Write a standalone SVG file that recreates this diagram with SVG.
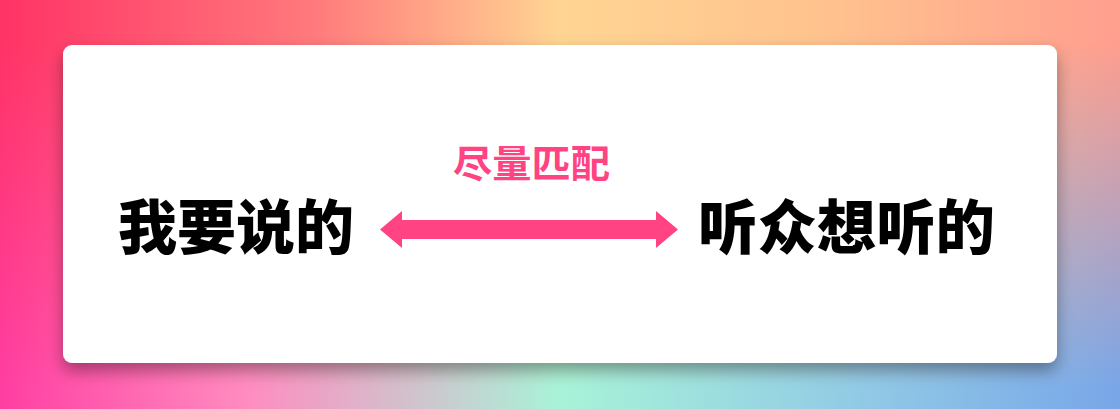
<svg xmlns="http://www.w3.org/2000/svg" width="1120" height="409" viewBox="0 0 1120 409">
<defs>
<linearGradient id="topG" x1="0" y1="0" x2="1" y2="0">
<stop offset="0" stop-color="#ff3366"/>
<stop offset="0.28" stop-color="#ff7a7c"/>
<stop offset="0.5" stop-color="#ffd593"/>
<stop offset="0.75" stop-color="#ffc18e"/>
<stop offset="1" stop-color="#ff9e8e"/>
</linearGradient>
<linearGradient id="botG" x1="0" y1="0" x2="1" y2="0">
<stop offset="0" stop-color="#ff3ea2"/>
<stop offset="0.22" stop-color="#ff8cc0"/>
<stop offset="0.5" stop-color="#a8f3d8"/>
<stop offset="0.78" stop-color="#90c8e6"/>
<stop offset="1" stop-color="#78a6e8"/>
</linearGradient>
<linearGradient id="vm" x1="0" y1="0" x2="0" y2="1">
<stop offset="0.1" stop-color="#000"/>
<stop offset="0.95" stop-color="#fff"/>
</linearGradient>
<mask id="m"><rect width="1120" height="409" fill="url(#vm)"/></mask>
<filter id="sh" x="-10%" y="-20%" width="120%" height="150%">
<feDropShadow dx="0" dy="8" stdDeviation="8" flood-color="#000" flood-opacity="0.35"/>
</filter>
<style>
.big{font-family:"Noto Sans CJK SC","Noto Sans CJK JP",serif;font-weight:900;font-size:59px;fill:#000}
.lbl{font-family:"Noto Sans CJK SC","Noto Sans CJK JP",serif;font-weight:700;font-size:38px;fill:#ff4383}
</style>
</defs>
<rect width="1120" height="409" fill="url(#topG)"/>
<rect width="1120" height="409" fill="url(#botG)" mask="url(#m)"/>
<rect x="63" y="45" width="994" height="318" rx="9" fill="#fff" filter="url(#sh)"/>
<g id="node-left"><text class="big" x="118" y="249" textLength="236" lengthAdjust="spacingAndGlyphs">我要说的</text></g>
<g id="node-right"><text class="big" x="698" y="249" textLength="297" lengthAdjust="spacingAndGlyphs">听众想听的</text></g>
<g id="connectors">
<path d="M380 229.5 L402 211 L402 220 L656 220 L656 211 L678 229.5 L656 248 L656 239 L402 239 L402 248 Z" fill="#ff4383"/>
<text class="lbl" x="453" y="177" textLength="157" lengthAdjust="spacingAndGlyphs">尽量匹配</text>
</g>
</svg>
